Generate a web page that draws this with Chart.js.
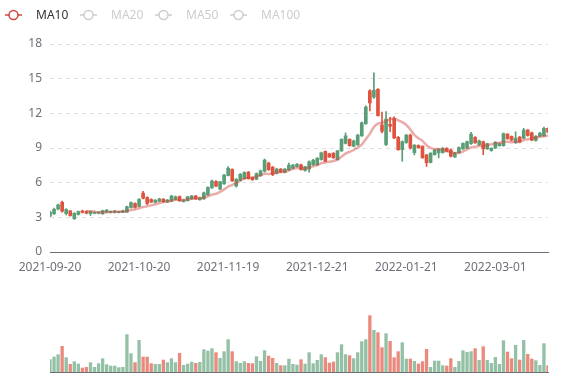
<!DOCTYPE html>
<html>
<head>
<meta charset="utf-8">
<script src="https://cdn.jsdelivr.net/npm/chart.js@4.4.1/dist/chart.umd.min.js"></script>
<style>
  body { margin: 0; width: 577px; height: 380px; background: #fff; overflow: hidden; font-family: "Noto Sans", sans-serif; }
  #legend { position: absolute; left: 0; top: 0; width: 577px; height: 30px; z-index: 2; }
  .item { position: absolute; top: 7px; height: 16px; font-size: 12px; line-height: 16px; color: #ccc; }
  .item svg { position: absolute; left: 0; top: 1px; }
  .item span { position: absolute; left: 31px; white-space: nowrap; }
  .item line, .item circle { stroke: #ccc; stroke-width: 1.5; fill: #fff; }
  .item.on { color: #333; }
  .item.on line, .item.on circle { stroke: #d0463f; }
  #price { position: absolute; left: 0; top: 0; }
  #volume { position: absolute; left: 0; top: 300px; }
</style>
</head>
<body>
<div id="legend">
  <div class="item on" style="left:5px"><svg width="18" height="14"><line x1="0" y1="7" x2="17" y2="7"/><circle cx="8.5" cy="7" r="4.5"/></svg><span>MA10</span></div>
  <div class="item" style="left:80px"><svg width="18" height="14"><line x1="0" y1="7" x2="17" y2="7"/><circle cx="8.5" cy="7" r="4.5"/></svg><span>MA20</span></div>
  <div class="item" style="left:155px"><svg width="18" height="14"><line x1="0" y1="7" x2="17" y2="7"/><circle cx="8.5" cy="7" r="4.5"/></svg><span>MA50</span></div>
  <div class="item" style="left:230px"><svg width="18" height="14"><line x1="0" y1="7" x2="17" y2="7"/><circle cx="8.5" cy="7" r="4.5"/></svg><span>MA100</span></div>
</div>
<canvas id="price" width="577" height="290"></canvas>
<canvas id="volume" width="577" height="80"></canvas>
<script>
"use strict";

const dates = [
  "2021-09-20", "2021-09-21", "2021-09-22", "2021-09-23", "2021-09-24", "2021-09-27", "2021-09-28", "2021-09-29", "2021-09-30",
  "2021-10-01", "2021-10-04", "2021-10-05", "2021-10-06", "2021-10-07", "2021-10-08", "2021-10-11", "2021-10-12", "2021-10-13",
  "2021-10-14", "2021-10-15", "2021-10-18", "2021-10-19", "2021-10-20", "2021-10-21", "2021-10-22", "2021-10-25", "2021-10-26",
  "2021-10-27", "2021-10-28", "2021-10-29", "2021-11-01", "2021-11-02", "2021-11-03", "2021-11-04", "2021-11-05", "2021-11-08",
  "2021-11-09", "2021-11-10", "2021-11-11", "2021-11-12", "2021-11-15", "2021-11-16", "2021-11-17", "2021-11-18", "2021-11-19",
  "2021-11-22", "2021-11-23", "2021-11-24", "2021-11-25", "2021-11-26", "2021-11-29", "2021-11-30", "2021-12-01", "2021-12-02",
  "2021-12-03", "2021-12-06", "2021-12-07", "2021-12-08", "2021-12-09", "2021-12-10", "2021-12-13", "2021-12-14", "2021-12-15",
  "2021-12-16", "2021-12-17", "2021-12-20", "2021-12-21", "2021-12-22", "2021-12-23", "2021-12-24", "2021-12-27", "2021-12-28",
  "2021-12-29", "2021-12-30", "2021-12-31", "2022-01-04", "2022-01-05", "2022-01-06", "2022-01-07", "2022-01-10", "2022-01-11",
  "2022-01-12", "2022-01-13", "2022-01-14", "2022-01-17", "2022-01-18", "2022-01-19", "2022-01-20", "2022-01-21", "2022-01-24",
  "2022-01-25", "2022-01-26", "2022-01-27", "2022-01-28", "2022-02-07", "2022-02-08", "2022-02-09", "2022-02-10", "2022-02-11",
  "2022-02-14", "2022-02-15", "2022-02-16", "2022-02-17", "2022-02-18", "2022-02-21", "2022-02-22", "2022-02-23", "2022-02-24",
  "2022-02-25", "2022-02-28", "2022-03-01", "2022-03-02", "2022-03-03", "2022-03-04", "2022-03-07", "2022-03-08", "2022-03-09",
  "2022-03-10", "2022-03-11", "2022-03-14", "2022-03-15", "2022-03-16", "2022-03-17", "2022-03-18"
];

const tickLabels = ["2021-09-20", "2021-10-20", "2021-11-19", "2021-12-21", "2022-01-21", "2022-03-01"];

const open = [
  3.10, 3.30, 3.72, 4.30, 3.32, 3.56, 2.88, 3.25, 3.55, 3.50,
  3.32, 3.35, 3.36, 3.30, 3.45, 3.42, 3.42, 3.43, 3.43, 3.45,
  3.85, 4.20, 3.95, 5.10, 4.72, 4.55, 4.30, 4.40, 4.58, 4.32,
  4.40, 4.55, 4.80, 4.36, 4.45, 4.60, 4.85, 4.52, 4.60, 4.95,
  5.55, 6.10, 5.45, 5.90, 6.62, 7.15, 5.70, 6.20, 6.35, 6.90,
  6.45, 6.30, 6.60, 6.98, 7.70, 7.35, 6.80, 7.18, 6.90, 7.10,
  7.26, 7.40, 7.55, 7.05, 7.18, 7.55, 7.55, 8.00, 8.70, 8.50,
  8.55, 8.00, 8.75, 9.40, 9.75, 9.15, 9.28, 10.05, 11.10, 13.95,
  13.40, 14.08, 11.00, 9.30, 11.05, 11.55, 9.92, 8.85, 9.47, 10.12,
  8.60, 9.22, 9.15, 8.40, 7.75, 8.42, 8.58, 8.60, 8.98, 8.84,
  8.22, 8.60, 8.92, 9.00, 9.38, 9.92, 9.28, 9.55, 8.92, 8.78,
  9.00, 9.20, 9.20, 10.20, 10.00, 9.45, 9.95, 9.85, 10.55, 10.32,
  9.66, 10.02, 10.05, 10.70
];

const close = [
  3.45, 3.70, 4.08, 3.52, 3.68, 3.15, 3.35, 3.50, 3.42, 3.35,
  3.50, 3.42, 3.44, 3.58, 3.62, 3.50, 3.55, 3.46, 3.56, 3.92,
  4.28, 3.85, 4.55, 4.65, 4.20, 4.32, 4.48, 4.60, 4.35, 4.50,
  4.85, 4.78, 4.42, 4.50, 4.78, 4.85, 4.60, 4.70, 5.12, 5.60,
  6.15, 5.70, 6.08, 6.65, 7.25, 6.15, 6.30, 6.72, 6.88, 6.35,
  6.25, 6.78, 7.02, 7.95, 7.12, 6.70, 7.18, 6.92, 7.18, 7.52,
  7.52, 7.60, 7.12, 7.38, 7.80, 7.95, 8.10, 8.58, 7.85, 8.22,
  8.15, 8.75, 9.75, 10.05, 9.20, 9.62, 10.12, 11.18, 12.55, 12.90,
  14.00, 11.80, 10.45, 11.50, 10.88, 9.87, 8.85, 9.55, 10.12, 9.00,
  9.25, 9.02, 8.15, 7.72, 8.55, 8.82, 8.88, 8.98, 8.72, 8.28,
  8.58, 9.05, 9.40, 9.55, 10.20, 9.45, 9.62, 8.92, 9.38, 8.98,
  9.50, 9.38, 10.25, 9.80, 9.68, 9.85, 9.52, 10.55, 10.08, 9.68,
  10.02, 10.28, 10.70, 10.38
];

const high = [
  3.55, 3.80, 4.15, 4.40, 3.75, 3.60, 3.40, 3.55, 3.62, 3.58,
  3.55, 3.48, 3.50, 3.62, 3.68, 3.55, 3.60, 3.52, 3.62, 3.98,
  4.35, 4.25, 4.62, 5.25, 4.78, 4.60, 4.55, 4.65, 4.62, 4.55,
  4.90, 4.85, 4.85, 4.55, 4.82, 4.90, 4.90, 4.75, 5.18, 5.65,
  6.22, 6.18, 6.12, 6.72, 7.40, 7.20, 6.35, 6.80, 6.95, 6.98,
  6.50, 6.85, 7.10, 8.05, 7.78, 7.40, 7.25, 7.22, 7.22, 7.70,
  7.58, 7.65, 7.60, 7.42, 7.88, 8.02, 8.18, 8.65, 8.75, 8.55,
  8.60, 8.80, 9.80, 10.30, 9.80, 9.68, 10.18, 11.25, 12.65, 14.05,
  15.50, 14.15, 12.10, 12.15, 11.65, 11.70, 10.00, 9.62, 10.18, 10.20,
  9.30, 9.28, 9.20, 8.45, 8.60, 8.88, 8.95, 9.05, 9.02, 8.90,
  8.62, 9.10, 9.45, 9.60, 10.35, 9.98, 9.68, 9.60, 9.42, 9.02,
  9.55, 9.45, 10.30, 10.25, 10.05, 10.40, 10.00, 10.70, 10.60, 10.38,
  10.08, 10.35, 10.80, 10.75
];

const low = [
  3.05, 3.25, 3.65, 3.45, 3.20, 3.10, 2.82, 3.20, 3.38, 3.30,
  3.15, 3.30, 3.30, 3.26, 3.40, 3.38, 3.38, 3.38, 3.40, 3.42,
  3.80, 3.80, 3.90, 4.60, 4.10, 4.28, 4.25, 4.35, 4.30, 4.28,
  4.35, 4.50, 4.38, 4.32, 4.40, 4.55, 4.55, 4.48, 4.55, 4.90,
  5.50, 5.65, 5.40, 5.85, 6.58, 6.10, 5.62, 6.15, 6.30, 6.30,
  6.20, 6.25, 6.55, 6.92, 7.05, 6.60, 6.75, 6.88, 6.85, 7.05,
  7.20, 7.35, 7.08, 7.00, 6.90, 7.50, 7.50, 7.95, 7.80, 8.18,
  8.10, 7.95, 8.70, 9.35, 9.15, 9.10, 9.22, 10.00, 11.05, 12.20,
  13.30, 11.75, 10.30, 9.20, 10.42, 9.80, 8.80, 7.85, 9.40, 8.90,
  8.40, 8.98, 8.10, 7.40, 7.70, 8.38, 8.15, 8.55, 8.68, 8.22,
  8.18, 8.55, 8.88, 8.95, 9.32, 9.40, 9.22, 8.42, 8.88, 8.72,
  8.95, 9.15, 9.15, 9.75, 9.62, 9.40, 9.48, 9.80, 10.02, 9.62,
  9.60, 9.98, 10.00, 10.32
];

const volume = [
  12.7, 15.3, 17.7, 26.0, 14.7, 8.0, 10.7, 8.3, 4.3, 5.0,
  9.7, 5.0, 8.7, 13.7, 7.7, 6.3, 6.3, 4.7, 5.0, 37.7,
  18.7, 9.7, 32.0, 15.3, 15.3, 8.7, 8.0, 8.0, 12.3, 9.7,
  13.7, 9.7, 19.0, 7.0, 8.3, 10.3, 9.0, 10.0, 22.7, 21.3,
  23.7, 19.7, 14.0, 20.7, 32.7, 20.7, 10.7, 9.0, 10.7, 9.0,
  8.7, 15.7, 11.0, 21.7, 16.3, 14.0, 9.0, 6.7, 6.7, 13.3,
  8.0, 7.3, 12.7, 8.3, 19.7, 8.7, 12.0, 17.7, 14.7, 9.3,
  10.3, 19.7, 27.7, 17.7, 16.7, 13.7, 19.7, 30.7, 32.7, 56.7,
  42.0, 39.7, 24.7, 38.7, 31.0, 14.7, 20.7, 29.7, 13.3, 13.3,
  11.0, 8.3, 10.7, 23.0, 5.0, 11.3, 11.3, 6.7, 6.3, 13.7,
  5.0, 11.0, 21.7, 20.0, 20.7, 23.7, 12.0, 25.7, 12.0, 9.0,
  15.0, 8.0, 31.7, 20.3, 13.7, 27.0, 12.3, 32.0, 18.0, 13.3,
  11.7, 7.0, 28.7, 6.7
];

const upColor = "#5a9e77";
const downColor = "#e0533f";
const font = { family: "'Noto Sans', sans-serif", size: 12 };

const ma10 = close.map((c, i) =>
  i < 9 ? null : close.slice(i - 9, i + 1).reduce((a, b) => a + b, 0) / 10
);
const candleColors = close.map((c, i) => (c >= open[i] ? upColor : downColor));
const volumeColors = close.map((c, i) =>
  c >= open[i] ? "rgba(90,158,119,0.65)" : "rgba(224,83,63,0.68)"
);

new Chart(document.getElementById("price"), {
  type: "bar",
  data: {
    labels: dates,
    datasets: [
      {
        type: "line",
        label: "MA10",
        data: ma10,
        borderColor: "rgba(208,70,63,0.45)",
        borderWidth: 2.5,
        pointRadius: 0,
        tension: 0.3,
        order: 0,
      },
      {
        label: "body",
        data: dates.map((d, i) => [open[i], close[i]]),
        backgroundColor: candleColors,
        barThickness: 3,
        minBarLength: 1,
        grouped: false,
        order: 1,
      },
      {
        label: "wick",
        data: dates.map((d, i) => [low[i], high[i]]),
        backgroundColor: candleColors,
        barThickness: 1,
        grouped: false,
        order: 2,
      },
    ],
  },
  options: {
    responsive: false,
    animation: false,
    layout: { padding: { top: 44, right: 29, left: 0, bottom: 0 } },
    plugins: { legend: { display: false }, tooltip: { enabled: false } },
    scales: {
      x: {
        offset: false,
        grid: {
          display: true,
          drawOnChartArea: false,
          drawTicks: true,
          tickLength: 5,
          color: (ctx) => (tickLabels.includes(dates[ctx.index]) ? "#6e7079" : "rgba(0,0,0,0)"),
        },
        border: { display: true, color: "#6e7079" },
        ticks: {
          autoSkip: false,
          maxRotation: 0,
          color: "#6e7079",
          font: font,
          padding: 3,
          callback: (v, i) => (tickLabels.includes(dates[i]) ? dates[i] : null),
        },
        afterFit: (s) => { s.height = 38; },
      },
      y: {
        min: 0,
        max: 18,
        ticks: { stepSize: 3, color: "#6e7079", padding: 8, font: font },
        grid: { color: "#e0e0e0", drawTicks: false },
        border: { display: false, dash: [4, 4] },
        afterFit: (s) => { s.width = 50; },
      },
    },
  },
});

new Chart(document.getElementById("volume"), {
  type: "bar",
  data: {
    labels: dates,
    datasets: [
      {
        label: "Volume",
        data: volume,
        backgroundColor: volumeColors,
        barPercentage: 0.82,
        categoryPercentage: 1,
      },
    ],
  },
  options: {
    responsive: false,
    animation: false,
    layout: { padding: { top: 12, right: 29, left: 50, bottom: 0 } },
    plugins: { legend: { display: false }, tooltip: { enabled: false } },
    scales: {
      x: {
        offset: false,
        ticks: { display: false },
        grid: { display: false },
        border: { display: true, color: "#6e7079" },
        afterFit: (s) => { s.height = 8; },
      },
      y: { display: false, min: 0, max: 60 },
    },
  },
});
</script>
</body>
</html>
